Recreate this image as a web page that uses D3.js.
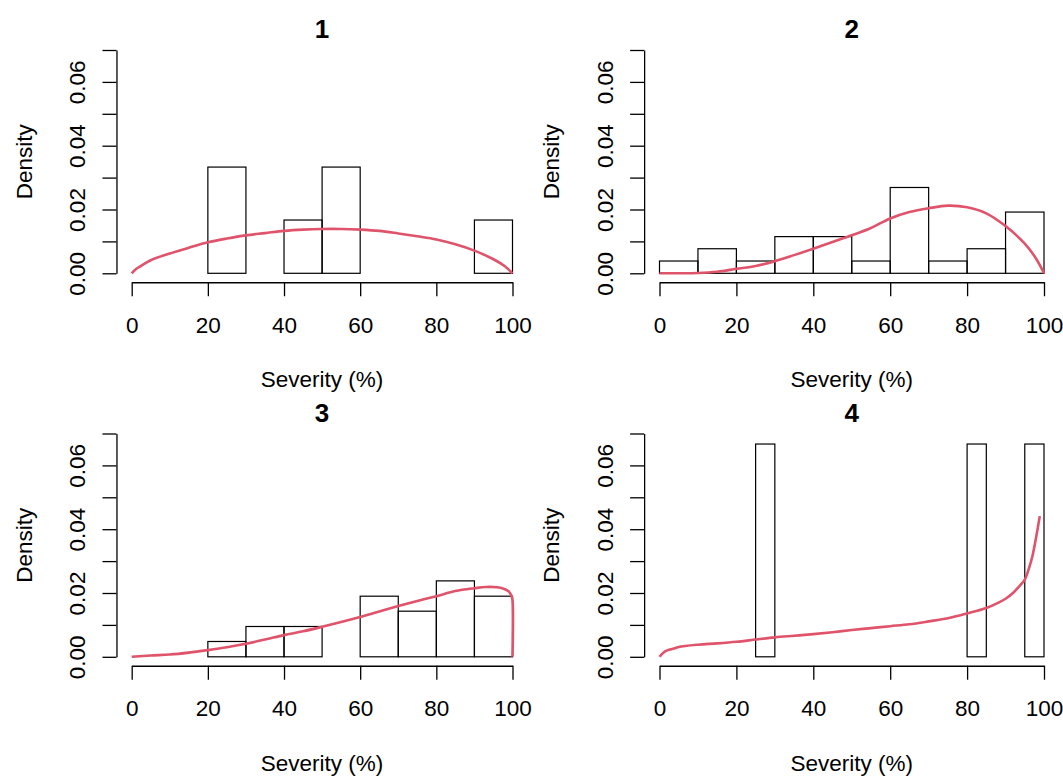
<!DOCTYPE html>
<html>
<head>
<meta charset="utf-8">
<script src="https://cdn.jsdelivr.net/npm/d3@7"></script>
<style>
  html, body { margin: 0; padding: 0; background: #fff; }
  svg { display: block; }
  text { font-family: "Liberation Sans", Arial, sans-serif; fill: #000; }
</style>
</head>
<body>
<svg id="chart" width="1063" height="776"></svg>
<script>
// Panel titles and shared axis ticks
const panelTitles = ["1", "2", "3", "4"];
const xTicks = [0, 20, 40, 60, 80, 100];
const yTicks = [0, 0.01, 0.02, 0.03, 0.04, 0.05, 0.06, 0.07];
const yTickLabels = ["0.00", "", "0.02", "", "0.04", "", "0.06", ""];
const xLabel = "Severity (%)";
const yLabel = "Density";

// Histogram bins (edges) and densities
const p1Edges = [20, 30, 40, 50, 60, 70, 80, 90, 100];
const p1Dens  = [0.0333, 0, 0.0167, 0.0333, 0, 0, 0, 0.0167];

const p2Edges = [0, 10, 20, 30, 40, 50, 60, 70, 80, 90, 100];
const p2Dens  = [0.00385, 0.0077, 0.00385, 0.0115, 0.0115, 0.00385, 0.0269, 0.00385, 0.0077, 0.0192];

const p3Edges = [20, 30, 40, 50, 60, 70, 80, 90, 100];
const p3Dens  = [0.0048, 0.0095, 0.0095, 0, 0.019, 0.0143, 0.0238, 0.019];

const p4Edges = [25, 30, 35, 40, 45, 50, 55, 60, 65, 70, 75, 80, 85, 90, 95, 100];
const p4Dens  = [0.0667, 0, 0, 0, 0, 0, 0, 0, 0, 0, 0, 0.0667, 0, 0, 0.0667];

// Fitted density curves (severity, density)
const p1CurveX = [0, 1, 2, 5, 10, 15, 20, 25, 30, 35, 40, 45, 50, 55, 60, 65, 70, 75, 80, 85, 90, 95, 98, 100];
const p1CurveY = [0, 0.0012, 0.002, 0.0041, 0.0062, 0.0080, 0.0097, 0.0109, 0.0119, 0.0126, 0.0133, 0.0137, 0.0139, 0.0139, 0.0137, 0.0133, 0.0125, 0.0116, 0.0106, 0.0091, 0.0071, 0.0044, 0.0022, 0];

const p2CurveX = [0, 5, 10, 15, 20, 25, 30, 35, 40, 45, 50, 55, 60, 65, 70, 75, 80, 85, 90, 95, 98, 100];
const p2CurveY = [0, 0, 0.0001, 0.0005, 0.0014, 0.0023, 0.0038, 0.0057, 0.0077, 0.0098, 0.0119, 0.0142, 0.0172, 0.0192, 0.0204, 0.0212, 0.0207, 0.0188, 0.0148, 0.0093, 0.0045, 0];

const p3CurveX = [0, 5, 10, 15, 20, 25, 30, 35, 40, 45, 50, 55, 60, 65, 70, 75, 80, 85, 90, 93, 96, 98, 99, 99.7, 100, 100];
const p3CurveY = [0, 0.0004, 0.0007, 0.0013, 0.0021, 0.0030, 0.0041, 0.0054, 0.0068, 0.0080, 0.0094, 0.0109, 0.0125, 0.0142, 0.0159, 0.0175, 0.0190, 0.0206, 0.0215, 0.0219, 0.0218, 0.0212, 0.0205, 0.0192, 0.0178, 0];

const p4CurveX = [0, 1, 2, 4, 5, 10, 15, 20, 25, 30, 35, 40, 45, 50, 55, 60, 65, 70, 75, 80, 85, 88, 90, 92, 94, 95, 96, 97, 98, 98.9];
const p4CurveY = [0, 0.0013, 0.0020, 0.0027, 0.0031, 0.0038, 0.0042, 0.0047, 0.0054, 0.0061, 0.0066, 0.0071, 0.0077, 0.0084, 0.0090, 0.0096, 0.0102, 0.0111, 0.0121, 0.0136, 0.0153, 0.0169, 0.0182, 0.0201, 0.0227, 0.0242, 0.0274, 0.0316, 0.0378, 0.0441];

const panels = [
  { title: panelTitles[0], edges: p1Edges, dens: p1Dens, cx: p1CurveX, cy: p1CurveY },
  { title: panelTitles[1], edges: p2Edges, dens: p2Dens, cx: p2CurveX, cy: p2CurveY },
  { title: panelTitles[2], edges: p3Edges, dens: p3Dens, cx: p3CurveX, cy: p3CurveY },
  { title: panelTitles[3], edges: p4Edges, dens: p4Dens, cx: p4CurveX, cy: p4CurveY }
];

// Layout of the 2x2 grid: pixel positions of severity 0 and 100 per column,
// and of density 0 and 0.07 per row
const colX = [[131.7, 512.5], [659.5, 1044]];
const rowY = [[273.3, 50.0], [656.8, 433.5]];
const FS = 22.5;                 // axis text size
const ink = "#000";
const red = "#DF536B";

const svg = d3.select("#chart");

panels.forEach((p, i) => {
  const col = i % 2, row = Math.floor(i / 2);
  const g = svg.append("g");
  const x = d3.scaleLinear().domain([0, 100]).range(colX[col]);
  const y = d3.scaleLinear().domain([0, 0.07]).range(rowY[row]);

  // plot region extends 4% beyond the data ranges
  const axisX = x(-4);
  const axisY = y(-0.0028);

  // histogram bars
  const bars = p.dens.map((d, k) => ({ a: p.edges[k], b: p.edges[k + 1], d }));
  g.append("g").selectAll("rect").data(bars).join("rect")
    .attr("x", d => x(d.a))
    .attr("y", d => y(d.d))
    .attr("width", d => x(d.b) - x(d.a))
    .attr("height", d => y(0) - y(d.d))
    .attr("fill", "none")
    .attr("stroke", ink)
    .attr("stroke-width", 1.2);

  // density curve
  const pts = p.cx.map((v, k) => [v, p.cy[k]]);
  const line = d3.line()
    .x(d => x(d[0]))
    .y(d => y(d[1]))
    .curve(d3.curveCatmullRom.alpha(0.5));
  g.append("path")
    .attr("d", line(pts))
    .attr("fill", "none")
    .attr("stroke", red)
    .attr("stroke-width", 2.6)
    .attr("stroke-linejoin", "round");

  // x axis
  const xa = g.append("g")
    .attr("transform", `translate(0,${axisY})`)
    .call(d3.axisBottom(x).tickValues(xTicks).tickSize(14).tickSizeOuter(0).tickFormat(d3.format("d")));
  xa.select(".domain").attr("stroke", ink).attr("stroke-width", 1.3);
  xa.selectAll(".tick line").attr("stroke", ink).attr("stroke-width", 1.3);
  xa.selectAll(".tick text")
    .attr("y", 50.5).attr("dy", 0)
    .attr("font-size", FS)
    .attr("font-family", "Liberation Sans, Arial, sans-serif")
    .attr("fill", ink);

  // y axis
  const ya = g.append("g")
    .attr("transform", `translate(${axisX},0)`)
    .call(d3.axisLeft(y).tickValues(yTicks).tickSize(14).tickSizeOuter(0)
      .tickFormat((d, k) => yTickLabels[k]));
  ya.select(".domain").attr("stroke", ink).attr("stroke-width", 1.3);
  ya.selectAll(".tick line").attr("stroke", ink).attr("stroke-width", 1.3);
  ya.selectAll(".tick text")
    .attr("x", null).attr("dy", null)
    .attr("transform", "translate(-31.5,0) rotate(-90)")
    .attr("text-anchor", "middle")
    .attr("font-size", FS)
    .attr("font-family", "Liberation Sans, Arial, sans-serif")
    .attr("fill", ink);

  const cx = (x(-4) + x(104)) / 2;
  const cyMid = (y(-0.0028) + y(0.0728)) / 2;
  const top = y(0.0728);

  // title
  g.append("text")
    .attr("x", cx).attr("y", top - 2.8)
    .attr("text-anchor", "middle")
    .attr("font-size", 26)
    .attr("font-weight", "bold")
    .text(p.title);

  // axis titles
  g.append("text")
    .attr("x", cx).attr("y", axisY + 104.8)
    .attr("text-anchor", "middle")
    .attr("font-size", FS)
    .text(xLabel);

  g.append("text")
    .attr("transform", `translate(${axisX - 84.8},${cyMid}) rotate(-90)`)
    .attr("text-anchor", "middle")
    .attr("font-size", FS)
    .text(yLabel);
});
</script>
</body>
</html>
